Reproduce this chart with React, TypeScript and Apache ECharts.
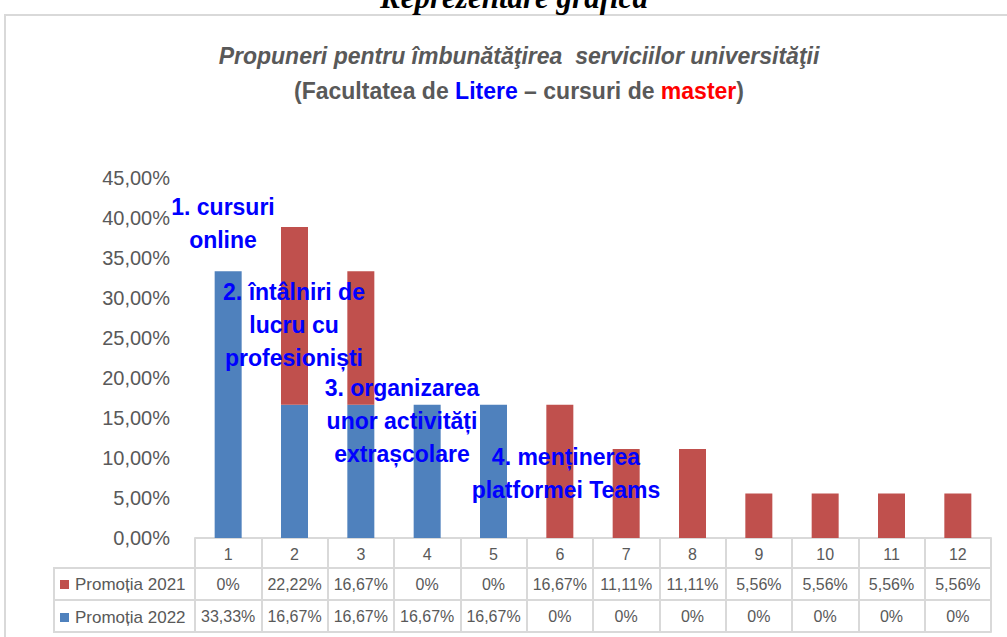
import React, { useEffect, useRef } from "react";
import * as echarts from "echarts";

const categories = ["1", "2", "3", "4", "5", "6", "7", "8", "9", "10", "11", "12"];
const promo2021 = [0, 22.22, 16.67, 0, 0, 16.67, 11.11, 11.11, 5.56, 5.56, 5.56, 5.56];
const promo2022 = [33.33, 16.67, 16.67, 16.67, 16.67, 0, 0, 0, 0, 0, 0, 0];
const seriesNames = ["Promoția 2021", "Promoția 2022"];
const annotations = [
  { text: "1. cursuri\nonline", x: 223, y: 223 },
  { text: "2. întâlniri de\nlucru cu\nprofesioniști", x: 294, y: 325 },
  { text: "3. organizarea\nunor activități\nextrașcolare", x: 402, y: 421 },
  { text: "4. menținerea\nplatformei Teams", x: 566, y: 473 },
];

const fmtPct = (v: number) => (v === 0 ? "0%" : v.toFixed(2).replace(".", ",") + "%");

const GRAY = "#595959";
const LINE = "#d9d9d9";
const FONT = "'Liberation Sans', Arial, sans-serif";

export default function App() {
  const ref = useRef<HTMLDivElement>(null);
  useEffect(() => {
    document.body.style.margin = "0";
    const chart = echarts.init(ref.current!, null, { renderer: "svg" });
    const gridLeft = 195;
    const gridRight = 991;
    const axisBase = {
      type: "category" as const,
      data: categories,
      position: "bottom" as const,
      boundaryGap: true,
      axisLine: { show: true, lineStyle: { color: LINE, width: 2 } },
      axisTick: { show: true, interval: 0, length: 30, lineStyle: { color: LINE, width: 2 } },
    };
    chart.setOption({
      animation: false,
      backgroundColor: "#ffffff",
      textStyle: { fontFamily: FONT },
      title: [
        {
          text: "Propuneri pentru îmbunătăţirea  serviciilor universităţii",
          left: 514,
          textAlign: "center",
          top: 39,
          textStyle: { fontFamily: FONT, fontSize: 23, fontStyle: "italic", fontWeight: "bold", color: GRAY },
        },
        {
          text: "{g|(Facultatea de }{b|Litere}{g| – cursuri de }{r|master}{g|)}",
          left: 514,
          textAlign: "center",
          top: 74,
          textStyle: {
            rich: {
              g: { fontFamily: FONT, fontSize: 23, fontWeight: "bold", color: GRAY },
              b: { fontFamily: FONT, fontSize: 23, fontWeight: "bold", color: "#0000ff" },
              r: { fontFamily: FONT, fontSize: 23, fontWeight: "bold", color: "#ff0000" },
            },
          },
        },
      ],
      legend: {
        data: seriesNames,
        orient: "vertical",
        left: 60,
        top: 576,
        padding: 0,
        itemWidth: 9,
        itemHeight: 9,
        itemGap: 16,
        icon: "rect",
        textStyle: { fontFamily: FONT, fontSize: 17, lineHeight: 16, color: GRAY, padding: [0, 0, 0, 1] },
      },
      grid: { left: gridLeft, right: 1007 - gridRight, top: 178, bottom: 637 - 538, containLabel: false },
      yAxis: {
        type: "value",
        min: 0,
        max: 45,
        interval: 5,
        axisLine: { show: false },
        axisTick: { show: false },
        splitLine: { show: false },
        axisLabel: {
          formatter: (v: number) => v.toFixed(2).replace(".", ",") + "%",
          color: GRAY,
          fontSize: 20,
          fontFamily: FONT,
          margin: 25,
        },
      },
      xAxis: [
        {
          ...axisBase,
          offset: 0,
          axisLabel: { interval: 0, color: GRAY, fontSize: 16, fontFamily: FONT, margin: 16, verticalAlign: "middle" },
        },
        {
          ...axisBase,
          offset: 30,
          axisTick: { ...axisBase.axisTick, length: 32 },
          axisLabel: {
            interval: 0,
            color: GRAY,
            fontSize: 16,
            fontFamily: FONT,
            margin: 16,
            verticalAlign: "middle",
            formatter: (_v: string, i: number) => fmtPct(promo2021[i]),
          },
        },
        {
          ...axisBase,
          offset: 62,
          axisTick: { ...axisBase.axisTick, length: 32 },
          axisLabel: {
            interval: 0,
            color: GRAY,
            fontSize: 16,
            fontFamily: FONT,
            margin: 16,
            verticalAlign: "middle",
            formatter: (_v: string, i: number) => fmtPct(promo2022[i]),
          },
        },
        {
          ...axisBase,
          offset: 94,
          axisTick: { show: false },
          axisLabel: { show: false },
        },
      ],
      series: [
        {
          name: seriesNames[1],
          type: "bar",
          stack: "total",
          xAxisIndex: 0,
          data: promo2022,
          barWidth: 27,
          itemStyle: { color: "#4f81bd" },
        },
        {
          name: seriesNames[0],
          type: "bar",
          stack: "total",
          xAxisIndex: 0,
          data: promo2021,
          barWidth: 27,
          itemStyle: { color: "#c0504d" },
        },
      ],
      graphic: [
        {
          type: "rect",
          shape: { x: 5, y: 15, width: 1020, height: 650 },
          style: { fill: "none", stroke: LINE, lineWidth: 2 },
          silent: true,
          z: -1,
        },
        {
          type: "text",
          style: {
            text: "Reprezentare grafică",
            x: 514,
            y: 13,
            align: "center",
            verticalAlign: "bottom",
            font: "italic bold 31px 'Liberation Serif', 'Times New Roman', serif",
            fill: "#000000",
          },
        },
        {
          type: "polyline",
          shape: { points: [[gridLeft, 568], [54, 568], [54, 632], [gridLeft, 632]] },
          style: { fill: "none", stroke: LINE, lineWidth: 2 },
        },
        {
          type: "line",
          shape: { x1: 54, y1: 600, x2: gridLeft, y2: 600 },
          style: { stroke: LINE, lineWidth: 2 },
        },
        ...annotations.map((a) => ({
          type: "text",
          z: 100,
          style: {
            text: a.text,
            x: a.x,
            y: a.y,
            align: "center",
            verticalAlign: "middle",
            lineHeight: 33,
            font: `bold 23px ${FONT}`,
            fill: "#0000ff",
          },
        })),
      ],
    });
    return () => chart.dispose();
  }, []);
  return <div ref={ref} style={{ position: "fixed", left: 0, top: 0, width: 1007, height: 637 }} />;
}
